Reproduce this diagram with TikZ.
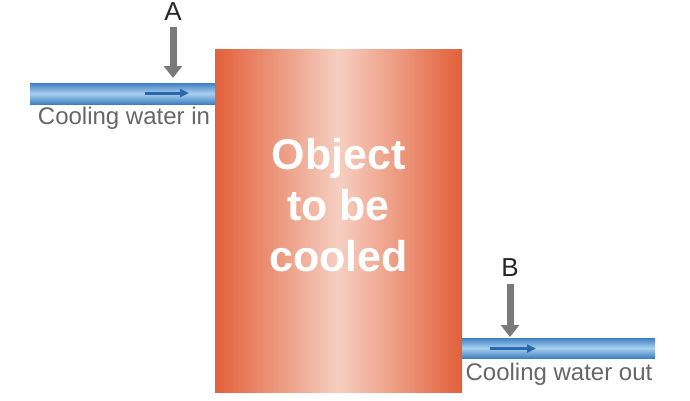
\documentclass[tikz,border=0pt]{standalone}
\usepackage{fontspec}
\setmainfont{Liberation Sans}
\usetikzlibrary{arrows.meta}
\definecolor{boxedge}{HTML}{E2603A}
\definecolor{boxmid}{HTML}{F6CFC1}
\definecolor{pipeedge}{HTML}{3F80C2}
\definecolor{pipemid}{HTML}{A9D0EE}
\definecolor{flowblue}{HTML}{2A68AE}
\definecolor{markgray}{HTML}{7A7A7A}
\definecolor{labelgray}{HTML}{666666}
\tikzset{
  pipe/.style={top color=pipeedge, bottom color=pipeedge, middle color=pipemid},
  flow/.style={draw=flowblue, line width=3pt, -{Triangle[length=9pt,width=8pt]}},
  marker/.style={draw=markgray, line width=7pt, -{Triangle[length=12pt,width=18pt]}},
  letter/.style={font=\fontsize{26}{30}\selectfont, text=black!85, inner sep=0pt},
  caption/.style={font=\fontsize{24}{28}\selectfont, text=labelgray, inner sep=0pt, anchor=base},
  bodytext/.style={font=\fontsize{43}{51}\selectfont\bfseries, text=white, align=center, inner sep=0pt}
}
\begin{document}
\begin{tikzpicture}[x=1pt,y=-1pt]
\useasboundingbox (0,0) rectangle (690,400);
% object
\shade[left color=boxedge, right color=boxedge, middle color=boxmid] (215,49) rectangle (462,392);
\node[bodytext] (obj) at (338.5,205) {Object\\to be~\\cooled};
% pipes
\shade[pipe] (30,83) rectangle (215,104);
\shade[pipe] (462,338) rectangle (655,358);
% flow arrows
\coordinate (f1a) at (145,93);
\coordinate (f1b) at (189,93);
\coordinate (f2a) at (490,348.5);
\coordinate (f2b) at (536,348.5);
\draw[flow] (f1a) -- (f1b);
\draw[flow] (f2a) -- (f2b);
% markers
\node[letter] (A) at (173,11.5) {A};
\node[letter] (B) at (510,268) {B};
\coordinate (sa) at (173,27);
\coordinate (ta) at (173,78);
\coordinate (sb) at (510,284);
\coordinate (tb) at (510,337);
\draw[marker] (sa) -- (ta);
\draw[marker] (sb) -- (tb);
% captions
\node[caption] (cin) at (124,124) {Cooling water in};
\node[caption] (cout) at (559,380) {Cooling water out};
\end{tikzpicture}
\end{document}
